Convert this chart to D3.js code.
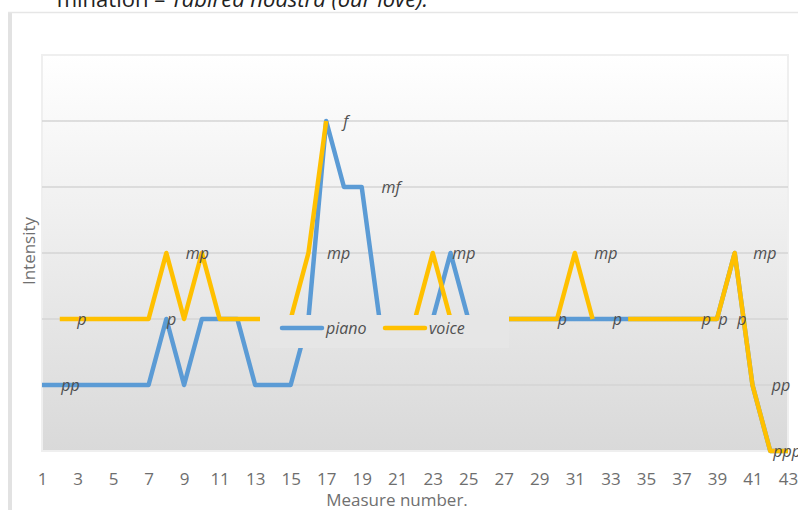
<!DOCTYPE html>
<html>
<head>
<meta charset="utf-8">
<script src="https://cdn.jsdelivr.net/npm/d3@7"></script>
<style>
  body { margin: 0; background: #fff; }
  svg { display: block; }
</style>
</head>
<body>
<svg id="chart" width="798" height="510"></svg>
<script>
// measures 1..43, intensity levels: 0 ppp, 1 pp, 2 p, 3 mp, 4 mf, 5 f
const measures = d3.range(1, 44)
const xTicks = d3.range(1, 44, 2)
const levels = [0, 1, 2, 3, 4, 5, 6]

const piano = [1, 1, 1, 1, 1, 1, 1, 2, 1, 2, 2, 2, 1, 1, 1, 2, 5, 4, 4, 2,
               2, 2, 2, 3, 2, 2, 2, 2, 2, 2, 2, 2, 2, 2, 2, 2, 2, 2, 2, 3,
               1, 0, 0]
const voice = [null, 2, 2, 2, 2, 2, 2, 3, 2, 3, 2, 2, 2, 2, 2, 3, 5, null, null, null,
               null, 2, 3, 2, 2, 2, 2, 2, 2, 2, 3, 2, null, 2, 2, 2, 2, 2, 2, 3,
               1, 0, 0]

// dynamic markings written on the chart: [measure, level, text]
const marks = [
  [2.6, 1, 'pp'], [3.25, 2, 'p'], [8.3, 2, 'p'], [9.75, 3, 'mp'],
  [17.7, 3, 'mp'], [18.1, 5, 'f'], [20.65, 4, 'mf'], [24.75, 3, 'mp'],
  [30.3, 2, 'p'], [32.75, 3, 'mp'], [33.4, 2, 'p'], [38.4, 2, 'p'],
  [39.35, 2, 'p'], [40.4, 2, 'p'], [41.7, 3, 'mp'], [42.6, 1, 'pp'],
  [42.95, 0, 'ppp']
]

const series = [
  { name: 'piano', values: piano, color: '#5b9bd5' },
  { name: 'voice', values: voice, color: '#ffc000' }
]

const svg = d3.select('#chart')
const plotLeft = 42, plotRight = 788, plotTop = 55, plotBottom = 451

// page scraps around the chart
svg.append('text')
  .attr('x', 428).attr('y', 7)
  .attr('text-anchor', 'end')
  .attr('font-family', 'Open Sans')
  .attr('font-size', 22)
  .attr('fill', '#222')
  .call(t => {
    t.append('tspan').text('mination – ')
    t.append('tspan').attr('font-style', 'italic').text('Tabirea noastra (our love).')
  })
svg.append('rect').attr('x', 8).attr('y', 12).attr('width', 4).attr('height', 498).attr('fill', '#e2e2e2')
svg.append('line').attr('x1', 8).attr('x2', 798).attr('y1', 12.5).attr('y2', 12.5)
  .attr('stroke', '#e6e6e6').attr('stroke-width', 1.5)

const x = d3.scaleLinear().domain([1, 43]).range([plotLeft, plotRight])
const y = d3.scaleLinear().domain([0, 6]).range([plotBottom, plotTop])

const grad = svg.append('defs').append('linearGradient')
  .attr('id', 'bg').attr('x1', 0).attr('x2', 0).attr('y1', 0).attr('y2', 1)
grad.append('stop').attr('offset', '0%').attr('stop-color', '#ffffff')
grad.append('stop').attr('offset', '100%').attr('stop-color', '#d9d9d9')

svg.append('rect')
  .attr('x', plotLeft).attr('y', plotTop)
  .attr('width', plotRight - plotLeft).attr('height', plotBottom - plotTop)
  .attr('fill', 'url(#bg)')
  .attr('stroke', '#efefef').attr('stroke-width', 2)

// gridlines
svg.append('g')
  .selectAll('line')
  .data(levels.slice(1, 6))
  .join('line')
  .attr('x1', plotLeft).attr('x2', plotRight)
  .attr('y1', d => y(d)).attr('y2', d => y(d))
  .attr('stroke', '#d4d4d4').attr('stroke-width', 1.5)

// x axis
const xAxis = svg.append('g')
  .attr('transform', 'translate(0,' + plotBottom + ')')
  .call(d3.axisBottom(x).tickValues(xTicks).tickSize(0).tickPadding(22))
xAxis.select('.domain').remove()
xAxis.selectAll('text')
  .attr('font-family', 'Open Sans')
  .attr('font-size', 17)
  .attr('fill', '#6e6e6e')

svg.append('text')
  .attr('x', 397).attr('y', 506)
  .attr('text-anchor', 'middle')
  .attr('font-family', 'Open Sans')
  .attr('font-size', 17)
  .attr('fill', '#707070')
  .text('Measure number.')

svg.append('text')
  .attr('transform', 'translate(35,251) rotate(-90)')
  .attr('text-anchor', 'middle')
  .attr('font-family', 'Open Sans')
  .attr('font-size', 17)
  .attr('fill', '#707070')
  .text('Intensity')

// lines
const line = d3.line()
  .defined(d => d.v != null)
  .x(d => x(d.m))
  .y(d => y(d.v))

svg.append('g')
  .selectAll('path')
  .data(series)
  .join('path')
  .attr('fill', 'none')
  .attr('stroke', d => d.color)
  .attr('stroke-width', 4.5)
  .attr('stroke-linejoin', 'round')
  .attr('d', d => line(d.values.map((v, i) => ({ m: measures[i], v: v }))))

// dynamics
svg.append('g')
  .selectAll('text')
  .data(marks)
  .join('text')
  .attr('x', d => x(d[0]))
  .attr('y', d => y(d[1]) + 6)
  .attr('text-anchor', 'middle')
  .attr('font-family', 'Open Sans')
  .attr('font-style', 'italic')
  .attr('font-size', 16)
  .attr('fill', '#505050')
  .text(d => d[2])

// legend
const legend = svg.append('g')
legend.append('rect')
  .attr('x', 260).attr('y', 315).attr('width', 249).attr('height', 33)
  .attr('fill', '#e6e6e6')
const items = legend.selectAll('g')
  .data(series)
  .join('g')
  .attr('transform', (d, i) => 'translate(' + (282 + i * 103) + ',328)')
items.append('line')
  .attr('x1', 0).attr('x2', 40)
  .attr('stroke', d => d.color).attr('stroke-width', 4.5).attr('stroke-linecap', 'round')
items.append('text')
  .attr('x', 44).attr('y', 6)
  .attr('font-family', 'Open Sans')
  .attr('font-style', 'italic')
  .attr('font-size', 16)
  .attr('fill', '#505050')
  .text(d => d.name)
</script>
</body>
</html>
